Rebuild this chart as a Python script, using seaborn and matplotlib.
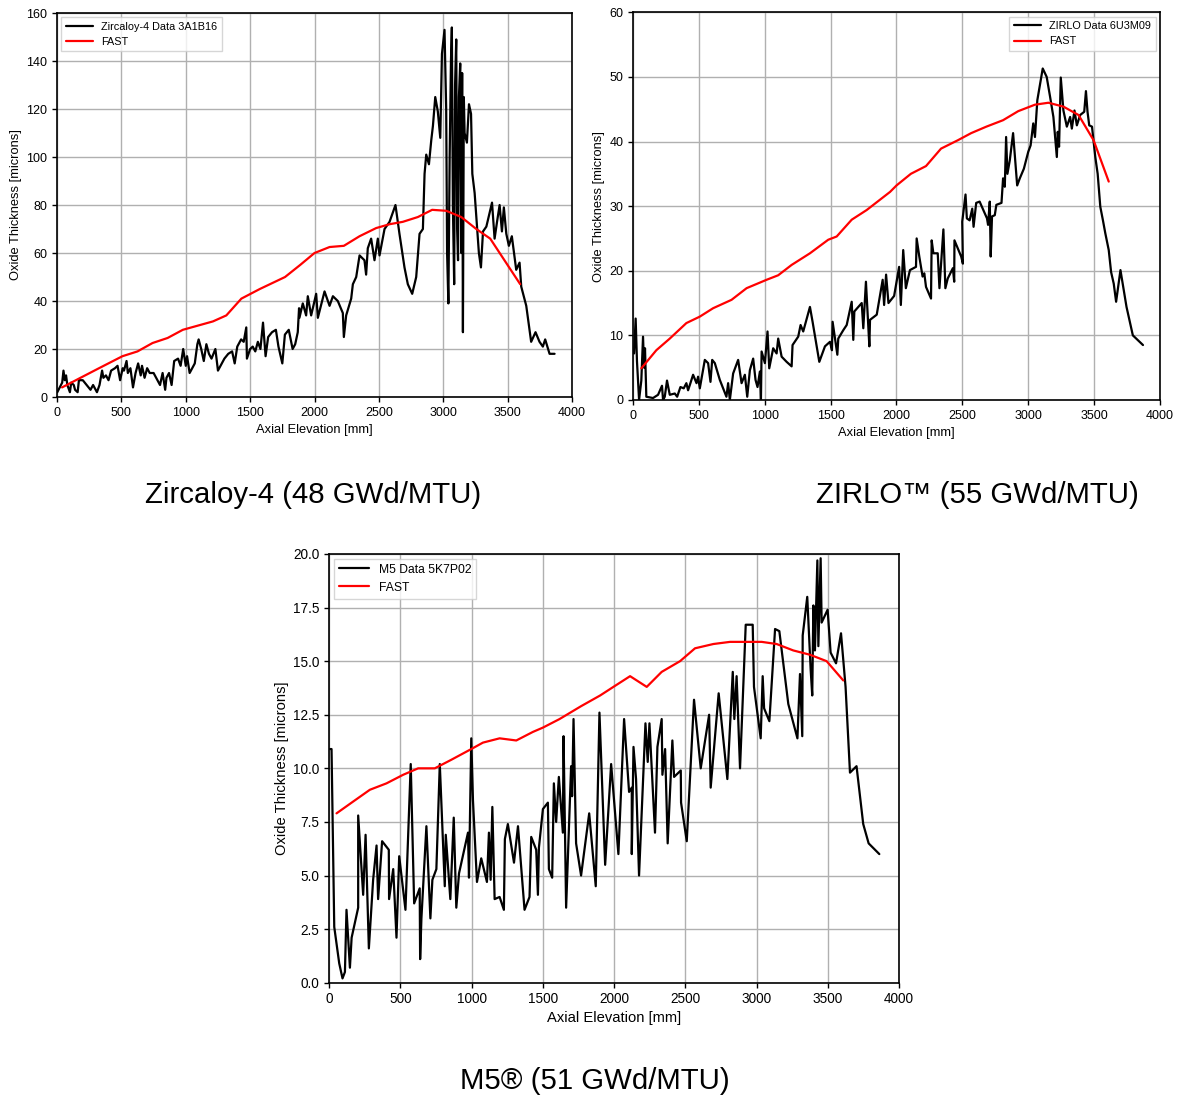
import numpy as np
import pandas as pd
import matplotlib
matplotlib.use("Agg")
import matplotlib.pyplot as plt
import seaborn as sns

# ---------------- data ----------------
zr_x = [2, 40, 50, 60, 70, 80, 100, 110, 130, 140, 160, 170, 200, 230, 260, 280, 310, 330, 350, 360,
        380, 400, 420, 450, 470, 490, 510, 520, 540, 550, 570, 590, 610, 630, 650, 660, 680, 700, 720, 750,
        770, 800, 820, 840, 850, 870, 890, 910, 940, 960, 980, 1000, 1010, 1030, 1050, 1070, 1090, 1100, 1120, 1140,
        1160, 1180, 1200, 1230, 1250, 1280, 1300, 1330, 1360, 1380, 1400, 1430, 1450, 1470, 1475, 1500, 1520, 1540, 1560, 1580,
        1600, 1620, 1640, 1670, 1700, 1720, 1750, 1770, 1800, 1830, 1850, 1870, 1880, 1883, 1909, 1935, 1948, 1974, 2013, 2026,
        2078, 2117, 2143, 2181, 2220, 2228, 2246, 2285, 2298, 2324, 2350, 2388, 2401, 2414, 2440, 2466, 2492, 2505, 2544, 2583,
        2629, 2660, 2699, 2725, 2759, 2790, 2816, 2842, 2855, 2868, 2889, 2907, 2920, 2938, 2958, 2977, 2990, 3010, 3023, 3030,
        3040, 3050, 3060, 3067, 3075, 3085, 3092, 3101, 3108, 3115, 3122, 3132, 3140, 3147, 3153, 3160, 3166, 3184, 3200, 3216,
        3226, 3244, 3257, 3277, 3293, 3309, 3335, 3379, 3399, 3418, 3438, 3456, 3471, 3490, 3510, 3533, 3567, 3593, 3606, 3645,
        3683, 3717, 3748, 3774, 3792, 3826, 3865]
zr_y = [2, 6, 11, 7, 9, 5, 2, 6, 5, 3, 2, 7, 7, 5, 3, 5, 2, 5, 11, 8,
        9, 7, 11, 12, 13, 7, 12, 11, 15, 10, 12, 4, 10, 14, 9, 13, 8, 12, 10, 10,
        8, 5, 10, 3, 8, 10, 5, 15, 16, 13, 20, 13, 17, 10, 12, 14, 22, 24, 20, 15,
        22, 18, 16, 20, 11, 14, 16, 18, 19, 14, 21, 24, 23, 29, 16, 20, 21, 19, 23, 20,
        31, 17, 25, 27, 28, 21, 14, 26, 28, 20, 22, 27, 37, 33, 39, 34, 42, 34, 43, 33,
        44, 38, 42, 40, 35, 25, 34, 41, 47, 50, 59, 57, 51, 62, 66, 57, 66, 59, 70, 73,
        80, 68, 54, 47, 43, 50, 68, 70, 93, 101, 97, 107, 113, 125, 119, 108, 143, 153, 120, 60,
        39, 100, 140, 154, 80, 47, 130, 149, 70, 57, 125, 139, 60, 135, 27, 125, 110, 106, 122, 118,
        93, 85, 75, 60, 54, 69, 71, 81, 66, 73, 80, 69, 79, 68, 63, 67, 53, 56, 46, 38,
        23, 27, 23, 21, 24, 18, 18]
zr_fx = [39, 182, 326, 508, 625, 742, 859, 977, 1211, 1315, 1432, 1575, 1771, 1888, 2000, 2117, 2228,
         2350, 2479, 2583, 2686, 2803, 2914, 3023, 3140, 3257, 3365, 3598]
zr_fy = [4, 8, 12, 17, 19, 22.5, 24.6, 28, 31.5, 34, 41, 45, 50, 55, 60, 62.5, 63,
         67, 70.4, 72, 73, 75, 78, 77.6, 75, 70, 66, 47]

zl_x = [8, 20, 30, 46, 63, 76, 84, 91, 101, 152, 190, 220, 228, 241, 258, 279, 317, 335, 360, 385,
        405, 418, 431, 456, 482, 494, 507, 545, 570, 588, 601, 621, 659, 709, 722, 735, 760, 798, 824, 849,
        867, 887, 912, 930, 945, 963, 971, 976, 1001, 1021, 1034, 1064, 1090, 1102, 1128, 1166, 1204, 1211, 1254, 1272,
        1292, 1343, 1363, 1414, 1457, 1495, 1510, 1515, 1551, 1558, 1596, 1622, 1660, 1672, 1680, 1736, 1748, 1768, 1794, 1799,
        1850, 1895, 1906, 1921, 1939, 1982, 2020, 2033, 2051, 2071, 2102, 2148, 2153, 2173, 2198, 2211, 2224, 2262, 2267, 2280,
        2313, 2326, 2356, 2371, 2389, 2428, 2438, 2440, 2491, 2504, 2499, 2524, 2534, 2555, 2575, 2585, 2605, 2631, 2687, 2695,
        2708, 2715, 2725, 2746, 2758, 2797, 2809, 2822, 2832, 2842, 2860, 2885, 2916, 2936, 2967, 3000, 3018, 3038, 3051, 3069,
        3110, 3140, 3166, 3191, 3217, 3224, 3234, 3247, 3267, 3293, 3318, 3331, 3351, 3369, 3394, 3425, 3438, 3450, 3463, 3484,
        3509, 3527, 3547, 3567, 3585, 3611, 3629, 3649, 3667, 3700, 3746, 3794, 3871]
zl_y = [7.2, 12.6, 6, 0, 3, 9.8, 5, 8, 0.5, 0.3, 0.8, 2.2, 0, 0.5, 3, 0.8, 1, 0.5, 2, 1.8,
        2.6, 1.5, 2.3, 3.9, 2.6, 3.6, 1.8, 6.2, 5.7, 2.8, 6.2, 5.7, 3.1, 0.5, 2.6, 0, 4.1, 6.2, 2.6, 3.9,
        0.5, 4.6, 6.4, 3.1, 2, 4.4, 0, 7.5, 5.7, 10.6, 4.9, 8, 7.2, 9.5, 6.7, 5.9, 5.2, 8.5, 9.8, 11.6,
        10.6, 14.4, 12.1, 5.9, 8.3, 9, 7.7, 12.1, 7, 9.5, 10.8, 11.6, 15.2, 9.3, 13.7, 15, 11.1, 18.3, 8.3, 12.4,
        13.2, 18.6, 14.7, 19.4, 15, 16.1, 20.6, 14.7, 23.2, 17.3, 20.1, 20.6, 25, 22.2, 19.1, 19.6, 17.5, 15.7, 24.7, 22.7,
        22.7, 17.3, 26.4, 17.3, 18.8, 20.4, 18.3, 24.7, 22.2, 21.1, 27.6, 31.8, 28.1, 27.8, 29.6, 26.8, 30.5, 30.7, 28.1, 27.1,
        30.7, 22.2, 28.4, 28.6, 30.2, 30.5, 34.3, 33, 40.7, 35, 37.1, 41.3, 33.2, 34.3, 35.8, 38.4, 39.4, 42.8, 40.7, 46.4,
        51.3, 50, 46.9, 43.8, 37.6, 41.5, 39.2, 49.9, 44.8, 42.3, 43.8, 42, 44.8, 42.5, 44.1, 44.6, 47.8, 44.6, 42.5, 42.3,
        37.6, 35, 29.9, 27.8, 25.8, 23.2, 19.8, 18, 15.2, 20.1, 14.4, 10, 8.5]
zl_fx = [63, 177, 279, 405, 507, 608, 748, 862, 1014, 1102, 1204, 1343, 1482, 1546, 1660, 1774, 1951,
         2000, 2109, 2224, 2338, 2466, 2567, 2682, 2809, 2924, 3051, 3153, 3267, 3382, 3496, 3611]
zl_fy = [4.9, 7.7, 9.5, 11.9, 12.9, 14.2, 15.5, 17.3, 18.6, 19.3, 20.9, 22.7, 24.8, 25.3, 27.9, 29.4, 32.2,
         33.2, 35, 36.2, 38.9, 40.2, 41.3, 42.3, 43.3, 44.7, 45.7, 46, 45.4, 44.1, 40.2, 33.8]

m5_x = [5, 16, 35, 70, 93, 110, 121, 145, 157, 203, 203, 238, 255, 278, 308, 332, 343, 371, 418, 420,
        449, 472, 491, 535, 572, 596, 635, 638, 647, 682, 710, 724, 752, 776, 811, 818, 850, 874, 892, 911,
        974, 981, 997, 1009, 1037, 1067, 1107, 1121, 1133, 1145, 1161, 1196, 1226, 1233, 1254, 1297, 1325, 1371, 1406, 1418,
        1453, 1465, 1472, 1500, 1535, 1542, 1565, 1577, 1593, 1612, 1640, 1645, 1663, 1698, 1705, 1715, 1733, 1768, 1825, 1871,
        1897, 1937, 1979, 2030, 2070, 2105, 2124, 2124, 2136, 2154, 2175, 2220, 2236, 2248, 2287, 2304, 2334, 2339, 2358, 2376,
        2409, 2421, 2468, 2470, 2510, 2561, 2608, 2667, 2678, 2734, 2795, 2833, 2844, 2860, 2884, 2924, 2973, 2982, 3029, 3043,
        3053, 3090, 3130, 3160, 3223, 3287, 3305, 3321, 3324, 3356, 3380, 3391, 3399, 3410, 3427, 3434, 3450, 3457, 3499, 3520,
        3558, 3593, 3625, 3656, 3702, 3749, 3787, 3862]
m5_y = [10.9, 10.9, 2.6, 0.9, 0.2, 0.5, 3.4, 0.7, 2.1, 3.5, 7.8, 4.1, 6.9, 1.6, 4.8, 6.4, 3.9, 6.6, 6.2, 3.9,
        5.3, 2.1, 5.9, 3.4, 10.2, 3.7, 4.4, 1.1, 3, 7.3, 3, 4.8, 5.3, 10.2, 4.5, 6.9, 3.9, 7.7, 3.5, 5.1,
        7, 4.9, 11.4, 8.5, 4.7, 5.8, 4.7, 7, 4.8, 8.2, 3.9, 4, 3.4, 6.7, 7.4, 5.6, 7.3, 3.4, 4, 6.8,
        6.2, 4.1, 6.3, 8.1, 8.4, 5.3, 4.9, 9.3, 7.5, 9.6, 7, 11.5, 3.5, 10.1, 8.7, 12.3, 6.5, 5, 7.9, 4.5,
        12.6, 5.5, 10.2, 6, 12.3, 8.9, 9.1, 6, 11, 9.5, 5, 12.1, 10.3, 12.1, 7, 11, 12.3, 9.7, 10.9, 6.5,
        11.3, 9.6, 9.9, 8.4, 6.6, 13.2, 10, 12.5, 9.1, 13.5, 9.5, 14.5, 12.3, 14.3, 10, 16.7, 16.7, 13.8, 11.4, 14.3,
        12.8, 12.2, 16.5, 16.4, 13, 11.4, 14.4, 11.5, 16.2, 18, 14.6, 13.4, 17.6, 15.5, 19.7, 15.7, 19.8, 16.8, 17.4, 15.4,
        14.9, 16.3, 13.8, 9.8, 10.1, 7.4, 6.5, 6.0]
m5_fx = [51, 157, 285, 402, 519, 624, 741, 857, 997, 1079, 1196, 1313, 1430, 1500, 1617, 1768, 1902,
         1995, 2112, 2229, 2334, 2463, 2568, 2697, 2814, 2931, 3036, 3141, 3258, 3375, 3492, 3609]
m5_fy = [7.9, 8.4, 9, 9.3, 9.7, 10, 10, 10.4, 10.9, 11.2, 11.4, 11.3, 11.7, 11.9, 12.3, 12.9, 13.4,
         13.8, 14.3, 13.8, 14.5, 15, 15.6, 15.8, 15.9, 15.9, 15.9, 15.8, 15.5, 15.3, 15, 14.1]

titles = ["Zircaloy-4 (48 GWd/MTU)", "ZIRLO\u2122 (55 GWd/MTU)", "M5\u00ae (51 GWd/MTU)"]
data_labels = ["Zircaloy-4 Data 3A1B16", "ZIRLO Data 6U3M09", "M5 Data 5K7P02"]

# ---------------- plotting ----------------
sns.set_style("ticks")
plt.rcParams['font.family'] = ['Liberation Sans', 'DejaVu Sans']
plt.rcParams['text.color'] = 'black'
plt.rcParams['axes.labelcolor'] = 'black'
plt.rcParams['xtick.color'] = 'black'
plt.rcParams['ytick.color'] = 'black'

fig = plt.figure(figsize=(11.81, 10.97), dpi=100)

panels = [
    dict(rect=[0.0483, 0.6381, 0.4360, 0.3500], x=zr_x, y=zr_y, fx=zr_fx, fy=zr_fy,
         ylim=(0, 160), yticks=np.arange(0, 161, 20), fmt="{:.0f}", fs=9, lab=9.3, lfs=7.8, loc="upper left"),
    dict(rect=[0.5360, 0.6354, 0.4462, 0.3534], x=zl_x, y=zl_y, fx=zl_fx, fy=zl_fy,
         ylim=(0, 60), yticks=np.arange(0, 61, 10), fmt="{:.0f}", fs=9, lab=9.3, lfs=7.8, loc="upper right"),
    dict(rect=[0.2788, 0.1042, 0.4824, 0.3908], x=m5_x, y=m5_y, fx=m5_fx, fy=m5_fy,
         ylim=(0, 20), yticks=np.arange(0, 20.01, 2.5), fmt="{:.1f}", fs=9.8, lab=10.6, lfs=8.7, loc="upper left"),
]

for i, p in enumerate(panels):
    ax = fig.add_axes(p["rect"])
    df_d = pd.DataFrame({"x": p["x"], "y": p["y"]})
    df_f = pd.DataFrame({"x": p["fx"], "y": p["fy"]})
    sns.lineplot(data=df_d, x="x", y="y", ax=ax, color="black", lw=1.6, sort=False,
                 estimator=None, label=data_labels[i])
    sns.lineplot(data=df_f, x="x", y="y", ax=ax, color="#ff0000", lw=1.6, sort=False,
                 estimator=None, label="FAST")
    ax.set_xlim(0, 4000)
    ax.set_ylim(*p["ylim"])
    ax.set_xticks(np.arange(0, 4001, 500))
    ax.set_yticks(p["yticks"])
    ax.set_yticklabels([p["fmt"].format(v) for v in p["yticks"]])
    ax.grid(True, color="#b0b0b0", lw=1.0)
    ax.set_axisbelow(True)
    for s in ax.spines.values():
        s.set_visible(True)
        s.set_color("black")
        s.set_linewidth(1.2)
    ax.tick_params(labelsize=p["fs"], colors="black", length=3.5, width=1)
    ax.set_xlabel("Axial Elevation [mm]", fontsize=p["lab"], labelpad=3.5)
    ax.set_ylabel("Oxide Thickness [microns]", fontsize=p["lab"], labelpad=3)
    leg = ax.legend(loc=p["loc"], fontsize=p["lfs"], frameon=True, fancybox=False,
                    handlelength=2.5, borderaxespad=0.4)
    leg.get_frame().set_edgecolor("#cccccc")

fig.text(0.265, 0.549, titles[0], ha="center", va="center", fontsize=21.2)
fig.text(0.828, 0.549, titles[1], ha="center", va="center", fontsize=21.2)
fig.text(0.504, 0.0145, titles[2], ha="center", va="center", fontsize=21.2)

fig.savefig("out.png", dpi=100)
